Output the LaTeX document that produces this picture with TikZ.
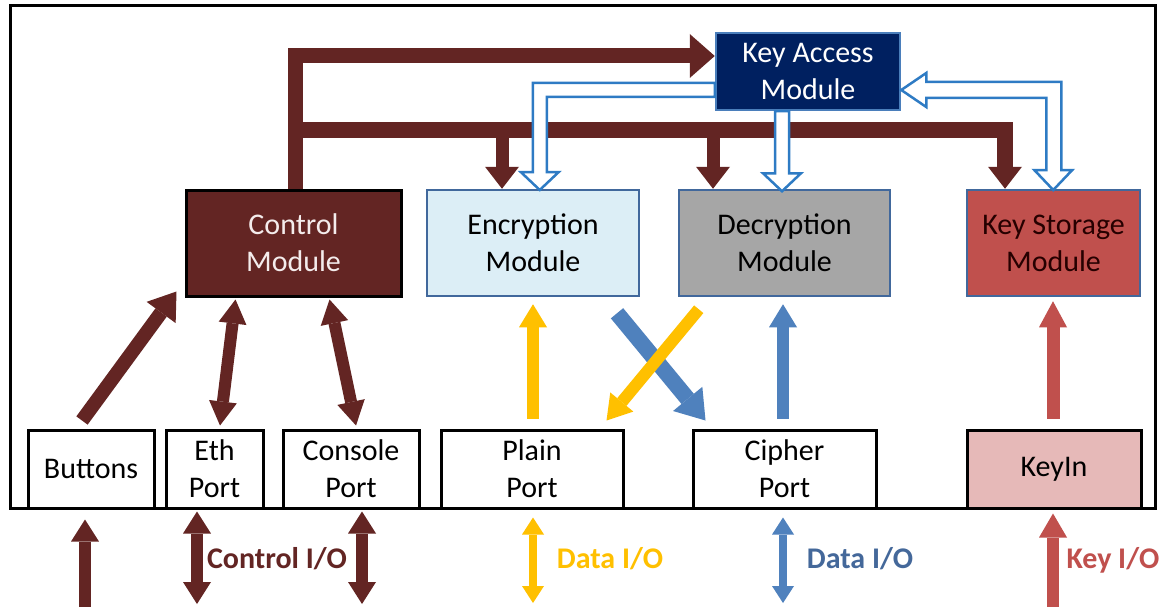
\documentclass[tikz,border=0pt]{standalone}
\usepackage{fontspec}
\setmainfont{Carlito}
\usetikzlibrary{arrows.meta,calc}
\definecolor{brn}{HTML}{632523}
\definecolor{navy}{HTML}{002060}
\definecolor{kaedge}{HTML}{4A7EBB}
\definecolor{modedge}{HTML}{41689C}
\definecolor{encfill}{HTML}{DCEEF6}
\definecolor{decfill}{HTML}{A6A6A6}
\definecolor{ksfill}{HTML}{C0504D}
\definecolor{kinfill}{HTML}{E6B9B8}
\definecolor{yel}{HTML}{FFC000}
\definecolor{blu}{HTML}{4F81BD}
\definecolor{hollowblue}{HTML}{2E7BC4}
\definecolor{redarr}{HTML}{C0504D}
\definecolor{datablue}{HTML}{44689A}
\definecolor{ctltext}{HTML}{F4ECEC}
\begin{document}
\begin{tikzpicture}[x=1pt,y=-1pt,
  box/.style={draw, line width=2.5pt, inner sep=0pt, align=center,
    font=\fontsize{30}{37}\selectfont, minimum height=106pt},
  mod/.style={box, draw=modedge},
  port/.style={box, draw=black, fill=white, line width=3pt, minimum height=78pt},
  lbl/.style={font=\bfseries\fontsize{30}{36}\selectfont, anchor=base, inner sep=0pt},
  bigtip/.style={-{Triangle[width=#1,length=24pt,line width=0pt]}},
  hollow/.style={draw=hollowblue, line width=2.5pt, fill=white, line join=miter},
]
\useasboundingbox (0,0) rectangle (1166,607);
\fill[white] (0,0) rectangle (1166,607);

% outer frame
\draw[line width=3pt] (10,6) rectangle (1155,508);

% modules
\node[box, fill=brn, draw=black, line width=3pt, text=ctltext, minimum width=215pt] (ctl) at (293.5,243) {Control\\Module};
\node[mod, fill=encfill, minimum width=212pt] (enc) at (533,243) {Encryption\\Module};
\node[mod, fill=decfill, minimum width=211pt] (dec) at (784.5,243) {Decryption\\Module};
\node[mod, fill=ksfill, minimum width=173pt, text={black!85!red}] (ks) at (1053.5,243) {Key Storage\\Module};
\node[box, fill=navy, draw=kaedge, text=white, minimum width=184pt, minimum height=77pt] (ka) at (808,71.5) {Key Access\\Module};

% ports
\node[port, minimum width=126pt] (btn) at (91,469) {Buttons};
\node[port, minimum width=97pt] (eth) at (214.5,469) {Eth\\Port};
\node[port, minimum width=136pt] (con) at (351,469) {Console\\Port};
\node[port, minimum width=182pt] (pln) at (532,469) {Plain\\Port};
\node[port, minimum width=183pt] (cph) at (784.5,469) {Cipher\\Port};
\node[port, fill=kinfill, minimum width=174pt] (kin) at (1054,469) {KeyIn};

% brown control bus
\draw[brn, line width=15pt, line join=miter, -{Triangle[width=44pt,length=25pt,line width=0pt]}]
  ([xshift=2pt]ctl.north) |- ([yshift=15.5pt]ka.west);
\coordinate (busL) at (295.5,130);
\draw[brn, line width=16pt, line join=miter, -{Triangle[width=34pt,length=22pt,line width=0pt]}]
  (busL) -| ([xshift=-48.5pt]ks.north);
\draw[brn, line width=13pt, -{Triangle[width=34pt,length=22pt,line width=0pt]}]
  ($(enc.north)+(-31,-60)$) -- ([xshift=-31pt]enc.north);
\draw[brn, line width=13pt, -{Triangle[width=34pt,length=22pt,line width=0pt]}]
  ($(dec.north)+(-71.5,-60)$) -- ([xshift=-71.5pt]dec.north);

% hollow key arrows
\draw[hollow] ([yshift=-11.5pt]ka.west) -- ++(-182,0) -- ++(0,89) -- ++(-12,0)
  -- ++(19,18) -- ++(19,-18) -- ++(-12,0) -- ++(0,-75) -- ++(168,0) -- cycle;
\draw[hollow] ([xshift=-33pt]ka.south) -- ++(0,62) -- ++(-12,0) -- ++(19,18)
  -- ++(19,-18) -- ++(-12,0) -- ++(0,-62) -- cycle;
\draw[hollow] ([yshift=-18.5pt]ka.east) -- ++(25,-17) -- ++(0,9) -- ++(135,0)
  -- ++(0,88) -- ++(11,0) -- ++(-19,20) -- ++(-19,-20) -- ++(12,0) -- ++(0,-72)
  -- ++(-120,0) -- ++(0,9) -- cycle;

% port to control module
\draw[brn, line width=14pt, -{Triangle[width=36pt,length=26pt,line width=0pt]}]
  ([xshift=-9pt,yshift=8pt]btn.north) -- ([xshift=-8pt,yshift=6pt]ctl.south west);
\draw[brn, line width=12pt, {Triangle[width=28pt,length=24pt,line width=0pt]}-{Triangle[width=28pt,length=24pt,line width=0pt]}]
  ([xshift=5.5pt,yshift=3pt]eth.north) -- ([xshift=51pt,yshift=-2pt]ctl.south west);
\draw[brn, line width=12pt, {Triangle[width=28pt,length=24pt,line width=0pt]}-{Triangle[width=28pt,length=24pt,line width=0pt]}]
  ([xshift=5pt,yshift=3pt]con.north) -- ([xshift=145pt,yshift=-2pt]ctl.south west);

% data paths
\draw[blu, line width=16pt, -{Triangle[width=38pt,length=28pt,line width=0pt]}]
  ([xshift=84pt,yshift=-16pt]enc.south) -- ([xshift=14pt,yshift=8pt]cph.north west);
\draw[yel, line width=12pt, -{Triangle[width=30pt,length=24pt,line width=0pt]}]
  ([xshift=21pt,yshift=-12pt]dec.south west) -- ([xshift=-18pt,yshift=8pt]pln.north east);
\draw[yel, line width=12pt, -{Triangle[width=28pt,length=23pt,line width=0pt]}]
  ([xshift=1pt,yshift=10pt]pln.north) -- ([yshift=-7pt]enc.south);
\draw[blu, line width=12pt, -{Triangle[width=28pt,length=23pt,line width=0pt]}]
  ([xshift=-1.5pt,yshift=10pt]cph.north) -- ([xshift=-1.5pt,yshift=-7pt]dec.south);
\draw[redarr, line width=13pt, -{Triangle[width=28pt,length=26pt,line width=0pt]}]
  ([xshift=-1pt,yshift=10pt]kin.north) -- ([xshift=-0.5pt,yshift=-4pt]ks.south);

% external I/O
\coordinate (bIn) at (85,607);
\coordinate (eOut) at (197,604);
\coordinate (cOut) at (362,604);
\coordinate (pOut) at (533,603);
\coordinate (xOut) at (783,603);
\coordinate (kIn) at (1053,607);
\draw[brn, line width=12pt, -{Triangle[width=28pt,length=22pt,line width=0pt]}]
  (bIn) -- ([xshift=-6pt,yshift=-10pt]btn.south);
\draw[brn, line width=12pt, {Triangle[width=28pt,length=22pt,line width=0pt]}-{Triangle[width=28pt,length=22pt,line width=0pt]}]
  (eOut) -- ([xshift=-17.5pt,yshift=-2pt]eth.south);
\draw[brn, line width=12pt, {Triangle[width=28pt,length=22pt,line width=0pt]}-{Triangle[width=28pt,length=22pt,line width=0pt]}]
  (cOut) -- ([xshift=11pt,yshift=-2pt]con.south);
\draw[yel, line width=8pt, {Triangle[width=22pt,length=17pt,line width=0pt]}-{Triangle[width=22pt,length=17pt,line width=0pt]}]
  (pOut) -- ([xshift=1pt,yshift=-8pt]pln.south);
\draw[blu, line width=8pt, {Triangle[width=22pt,length=17pt,line width=0pt]}-{Triangle[width=22pt,length=17pt,line width=0pt]}]
  (xOut) -- ([xshift=-1.5pt,yshift=-8pt]cph.south);
\draw[redarr, line width=12pt, -{Triangle[width=28pt,length=24pt,line width=0pt]}]
  (kIn) -- ([xshift=-1pt,yshift=-4pt]kin.south);

% labels
\node[lbl, text=brn] (lctl) at (277,568) {Control I/O};
\node[lbl, text=yel] (lpl) at (610,568) {Data I/O};
\node[lbl, text=datablue] (lcp) at (860,568) {Data I/O};
\node[lbl, text=redarr] (lkey) at (1113,568) {Key I/O};
\end{tikzpicture}
\end{document}
